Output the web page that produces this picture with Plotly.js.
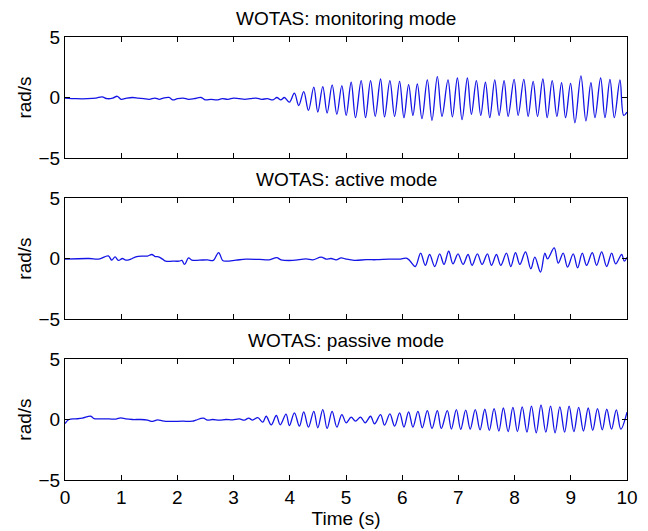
<!DOCTYPE html>
<html>
<head>
<meta charset="utf-8">
<script src="https://cdn.plot.ly/plotly-3.0.1.min.js"></script>
<style>html,body{margin:0;padding:0;background:#fff;}#chart{width:648px;height:531px;}</style>
</head>
<body>
<div id="chart"></div>
<script>
// Panel titles
const panelTitles = ["WOTAS: monitoring mode", "WOTAS: active mode", "WOTAS: passive mode"];
const xTickVals = [0,1,2,3,4,5,6,7,8,9,10];
const yTickVals = [-5,0,5];
const yTickText = ["\u22125","0","5"];

// Monitoring mode: time (s) and angular velocity (rad/s), read at local extrema
const tMon = [0,0.2,0.4,0.55,0.66,0.75,0.85,0.93,1.0,1.1,1.2,1.3,1.4,1.5,1.6,1.68,1.75,1.85,1.92,2.0,2.1,2.2,2.3,2.42,2.5,2.6,2.7,2.8,2.9,3.0,3.1,3.2,3.3,3.4,3.5,3.6,3.7,3.77,3.84,3.904,3.993,
  4.082,4.159,4.248,4.332,4.427,4.498,4.587,4.664,4.754,4.837,4.926,5.003,5.092,5.169,5.270,5.348,5.437,5.520,5.615,5.686,5.781,5.865,5.954,6.031,6.114,6.191,6.269,6.352,6.447,6.530,6.625,6.708,6.815,6.893,6.982,7.065,
  7.160,7.231,7.320,7.398,7.481,7.558,7.647,7.724,7.813,7.885,7.991,8.063,8.164,8.241,8.330,8.408,8.503,8.580,8.669,8.752,8.836,8.907,8.996,9.073,9.180,9.269,9.358,9.430,9.531,9.608,9.697,9.774,9.875,9.941,10.0];
const vMon = [-0.05,-0.1,-0.1,-0.05,0.05,-0.1,-0.05,0.1,-0.15,-0.05,0.0,-0.05,-0.1,-0.15,-0.05,-0.15,-0.05,0.0,-0.2,-0.1,-0.05,-0.15,-0.1,0.0,-0.2,-0.15,-0.2,-0.1,-0.15,-0.05,-0.1,-0.15,-0.1,-0.05,-0.15,-0.1,-0.2,0.0,-0.2,0.0,-0.38,
  0.36,-0.66,0.49,-1.07,0.85,-1.20,0.90,-1.28,1.04,-1.39,0.98,-1.48,1.26,-1.67,1.39,-1.67,1.39,-1.56,1.53,-1.61,1.39,-1.56,1.34,-1.67,1.07,-1.48,1.12,-1.75,1.45,-1.89,1.72,-1.56,1.45,-1.61,1.61,-1.83,
  1.61,-1.39,1.39,-1.48,1.26,-1.67,1.45,-1.48,1.39,-1.56,1.50,-1.48,1.50,-1.56,1.34,-1.56,1.53,-1.67,1.39,-1.56,1.23,-1.67,1.17,-2.10,1.78,-1.94,1.23,-1.67,1.61,-1.67,1.50,-1.67,1.45,-1.48,-1.2];

// Active mode
const tAct = [0,0.43,0.6,0.772,0.832,0.891,0.951,1.022,1.081,1.171,1.26,1.378,1.468,1.545,1.604,1.664,1.735,1.794,1.913,2.032,2.08,2.127,2.198,2.258,2.389,2.537,2.638,2.733,2.805,2.864,3.042,3.22,3.458,3.636,3.767,3.844,4.052,4.29,4.409,4.557,4.647,4.736,4.825,4.914,5.003,5.15,5.36,5.54,5.77,5.95,6.072,6.132,
  6.233,6.328,6.411,6.488,6.578,6.667,6.744,6.827,6.904,6.993,7.083,7.172,7.243,7.338,7.421,7.516,7.588,7.677,7.754,7.855,7.932,8.016,8.093,8.194,8.289,8.360,8.461,8.538,8.586,8.705,8.776,8.865,8.942,9.043,9.121,9.204,9.281,9.382,9.459,9.549,9.638,9.727,9.798,9.905,9.952,10.0];
const vAct = [-0.05,0.0,-0.05,0.22,-0.14,0.14,-0.16,0.0,-0.14,-0.05,0.14,0.2,0.2,0.33,0.16,0.14,-0.05,-0.22,-0.22,-0.22,-0.16,-0.49,0.05,-0.14,-0.14,-0.11,-0.16,0.49,-0.16,-0.22,-0.14,-0.05,-0.08,-0.11,0.08,-0.11,-0.16,-0.03,-0.11,0.11,-0.05,0.0,-0.11,0.05,-0.05,-0.15,-0.1,-0.1,-0.05,-0.05,0.03,-0.16,
  -0.66,0.44,-0.57,0.33,-0.66,0.38,-0.49,0.60,-0.44,0.38,-0.49,0.33,-0.57,0.38,-0.49,0.38,-0.57,0.33,-0.57,0.44,-0.66,0.49,-0.49,0.55,-0.85,0.11,-1.12,0.44,-0.03,0.87,-0.38,0.44,-0.71,0.38,-0.77,0.44,-0.57,0.49,-0.57,0.55,-0.66,0.44,-0.44,0.33,-0.22,0.1];

// Passive mode
const tPas = [0,0.071,0.19,0.309,0.458,0.517,0.606,0.784,0.903,0.992,1.081,1.2,1.349,1.468,1.557,1.646,1.735,1.854,2.092,2.27,2.329,2.46,2.537,2.626,2.745,2.864,2.983,3.102,3.191,3.268,3.339,3.43,3.52,3.58,3.67,3.76,3.83,3.933,3.993,
  4.082,4.171,4.248,4.332,4.427,4.498,4.587,4.664,4.753,4.837,4.926,5.003,5.092,5.169,5.258,5.342,5.437,5.508,5.615,5.686,5.781,5.865,5.954,6.031,6.114,6.191,6.280,6.358,6.447,6.530,6.625,6.696,6.803,6.875,6.964,7.041,
  7.13,7.21,7.30,7.385,7.47,7.55,7.635,7.72,7.80,7.885,7.97,8.05,8.135,8.22,8.30,8.385,8.47,8.555,8.64,8.72,8.805,8.89,8.97,9.055,9.14,9.225,9.31,9.39,9.475,9.56,9.64,9.725,9.81,9.89,10.0];
const vPas = [-0.33,0.0,0.05,0.11,0.27,0.08,0.05,0.05,0.03,0.14,0.05,0.0,0.0,-0.05,-0.16,-0.03,-0.11,-0.16,-0.14,-0.14,-0.05,0.11,-0.05,0.0,-0.05,0.0,-0.03,0.05,-0.05,0.11,-0.05,0.16,-0.22,0.27,-0.45,0.33,-0.44,0.45,-0.5,
  0.55,-0.55,0.63,-0.63,0.68,-0.68,0.82,-0.74,0.68,-0.63,0.41,-0.27,0.19,-0.14,0.19,-0.27,0.27,-0.36,0.41,-0.46,0.46,-0.55,0.55,-0.63,0.63,-0.63,0.68,-0.68,0.74,-0.74,0.74,-0.74,0.74,-0.79,0.82,-0.82,
  0.78,-0.8,0.82,-0.85,0.85,-0.9,0.9,-0.95,0.95,-1.0,1.0,-1.0,1.05,-1.05,1.1,-1.1,1.2,-1.05,1.1,-1.1,1.05,-1.05,1.1,-1.0,1.0,-0.95,0.95,-0.9,0.9,-0.85,0.85,-0.8,0.8,-0.8,0.6];

const lineColor = 'rgb(20,20,230)';
const font = {family: 'Liberation Sans, Arial, sans-serif', size: 19, color: '#000'};

function mk(t, v, xa, ya) {
  return {x: t, y: v, xaxis: xa, yaxis: ya, type: 'scatter', mode: 'lines',
    line: {color: lineColor, width: 1.3, shape: 'spline', smoothing: 1}, hoverinfo: 'skip'};
}
const data = [mk(tMon, vMon, 'x', 'y'), mk(tAct, vAct, 'x2', 'y2'), mk(tPas, vPas, 'x3', 'y3')];

function xax(anchor, labels) {
  return {anchor: anchor, domain: [0,1], range: [0,10], tickvals: xTickVals, showticklabels: labels,
    ticks: 'inside', ticklen: 5, tickcolor: '#000', tickwidth: 1, showline: true, linecolor: '#000', linewidth: 1,
    mirror: 'ticks', showgrid: false, zeroline: false, tickfont: font, fixedrange: true};
}
function yax(anchor, dom) {
  return {anchor: anchor, domain: dom, range: [-5,5], tickvals: yTickVals, ticktext: yTickText,
    ticks: 'inside', ticklen: 5, tickcolor: '#000', tickwidth: 1, showline: true, linecolor: '#000', linewidth: 1,
    mirror: 'ticks', showgrid: false, zeroline: false, tickfont: font,
    title: {text: 'rad/s', font: font, standoff: 1}};
}
const doms = [[0.7269,1],[0.3634,0.6366],[0,0.2731]];
const x3 = xax('y3', true);
x3.title = {text: 'Time (s)', font: font, standoff: 2};
const layout = {
  width: 648, height: 531,
  margin: {l: 65, r: 21, t: 37, b: 51},
  paper_bgcolor: '#fff', plot_bgcolor: '#fff',
  showlegend: false, font: font,
  xaxis: xax('y', false), xaxis2: xax('y2', false), xaxis3: x3,
  yaxis: yax('x', doms[0]), yaxis2: yax('x2', doms[1]), yaxis3: yax('x3', doms[2]),
  annotations: panelTitles.map((s, i) => ({text: s, xref: 'paper', yref: 'paper', x: 0.5, y: doms[i][1],
    xanchor: 'center', yanchor: 'bottom', yshift: 6, showarrow: false, font: font}))
};
Plotly.newPlot('chart', data, layout, {staticPlot: true, displayModeBar: false});
</script>
</body>
</html>
